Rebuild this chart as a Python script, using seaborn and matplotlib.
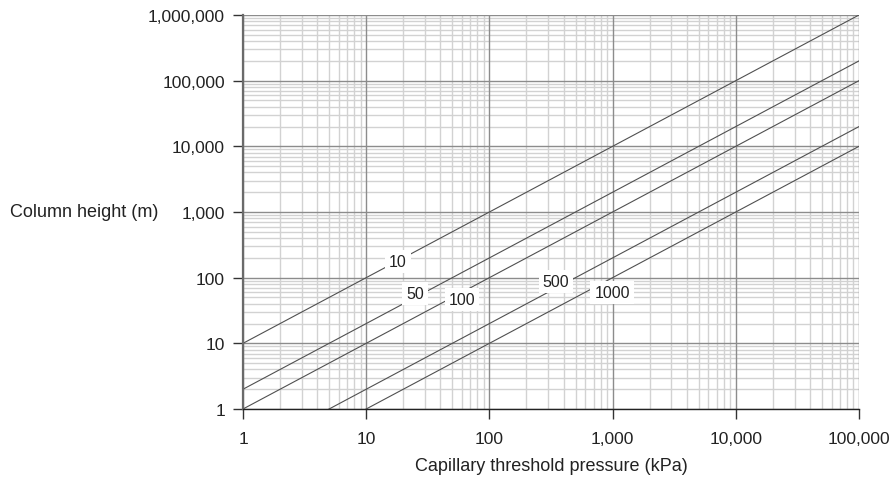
import numpy as np
import pandas as pd
import matplotlib
matplotlib.use("Agg")
import matplotlib.pyplot as plt
import matplotlib.ticker as mticker
import seaborn as sns

# Data: column height (m) vs capillary threshold pressure (kPa) for several curves
curve_labels = ["10", "50", "100", "500", "1000"]
pressure_kpa = [1, 100000]
height_start = [10, 2, 1, 0.2, 0.1]      # height at 1 kPa
height_end = [1000000, 200000, 100000, 20000, 10000]  # height at 100,000 kPa

label_x = [18.1, 24.9, 60, 347, 989]
label_y = [179, 58, 47, 86, 60]

x_ticks = [1, 10, 100, 1000, 10000, 100000]
x_ticklabels = ["1", "10", "100", "1,000", "10,000", "100,000"]
y_ticks = [1, 10, 100, 1000, 10000, 100000, 1000000]
y_ticklabels = ["1", "10", "100", "1,000", "10,000", "100,000", "1,000,000"]

rows = []
for lab, h0, h1 in zip(curve_labels, height_start, height_end):
    rows.append({"curve": lab, "pressure": pressure_kpa[0], "height": h0})
    rows.append({"curve": lab, "pressure": pressure_kpa[1], "height": h1})
df = pd.DataFrame(rows)

sns.set_theme(style="white")
plt.rcParams["font.family"] = ["Liberation Sans", "DejaVu Sans"]

fig = plt.figure(figsize=(8.96, 4.85), dpi=100)
ax = fig.add_axes([243 / 896, 75 / 485, 616 / 896, 394 / 485])

sns.lineplot(data=df, x="pressure", y="height", hue="curve",
             palette=["#505050"] * len(curve_labels), linewidth=0.8,
             legend=False, ax=ax, zorder=3)

ax.set_xscale("log")
ax.set_yscale("log")
ax.set_xlim(1, 100000)
ax.set_ylim(1, 1000000)

ax.xaxis.set_major_locator(mticker.FixedLocator(x_ticks))
ax.xaxis.set_major_formatter(mticker.FixedFormatter(x_ticklabels))
ax.yaxis.set_major_locator(mticker.FixedLocator(y_ticks))
ax.yaxis.set_major_formatter(mticker.FixedFormatter(y_ticklabels))
ax.xaxis.set_minor_locator(mticker.LogLocator(base=10, subs=np.arange(2, 10), numticks=20))
ax.yaxis.set_minor_locator(mticker.LogLocator(base=10, subs=np.arange(2, 10), numticks=20))
ax.xaxis.set_minor_formatter(mticker.NullFormatter())
ax.yaxis.set_minor_formatter(mticker.NullFormatter())

ax.grid(which="minor", color="#d2d2d2", linewidth=1.0)
ax.grid(which="major", visible=False)
ax.set_axisbelow(True)
for xv in x_ticks:
    ax.axvline(xv, color="#8c8c8c", linewidth=1.0, zorder=1.5)
for yv in y_ticks:
    ax.axhline(yv, color="#8c8c8c", linewidth=1.0, zorder=1.5)

for s in ["top", "right"]:
    ax.spines[s].set_visible(False)
ax.spines["left"].set_color("#6a6a6a")
ax.spines["left"].set_linewidth(1.6)
ax.spines["left"].set_zorder(4)
ax.spines["bottom"].set_color("#222222")
ax.spines["bottom"].set_linewidth(1.0)
ax.spines["bottom"].set_zorder(4)

ax.tick_params(which="major", direction="out", length=7, width=1.0,
               color="#333333", labelsize=12.5, labelcolor="#222222",
               bottom=True, left=True)
ax.tick_params(axis="x", which="major", pad=9)
ax.tick_params(axis="y", which="major", pad=6)
ax.tick_params(which="minor", length=0)

for lab, lx, ly in zip(curve_labels, label_x, label_y):
    ax.text(lx, ly, lab, ha="center", va="center", fontsize=11.5, color="#222222",
            zorder=5, bbox=dict(boxstyle="square,pad=0.25", fc="white", ec="none"))

ax.set_xlabel("Capillary threshold pressure (kPa)", fontsize=13, color="#222222", labelpad=8)
ax.set_ylabel("Column height (m)", fontsize=13, color="#222222", rotation=0,
              ha="right", va="center")
ax.yaxis.set_label_coords(-0.138, 0.5)

fig.savefig("out.png", dpi=100)
